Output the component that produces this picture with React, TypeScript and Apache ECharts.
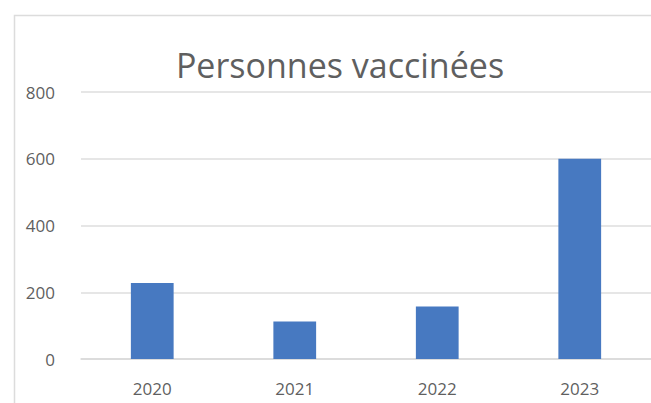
import React, { useEffect, useRef } from "react";
import * as echarts from "echarts";

const categories = ["2020", "2021", "2022", "2023"];
const values = [228, 112, 157, 600];
const yTicks = { min: 0, max: 800, interval: 200 };
const titleText = "Personnes vaccinées";

export default function App() {
  const ref = useRef<HTMLDivElement>(null);
  useEffect(() => {
    if (!ref.current) return;
    const chart = echarts.init(ref.current, null, { renderer: "svg" });
    chart.setOption({
      animation: false,
      backgroundColor: "#ffffff",
      title: {
        text: titleText,
        left: 335,
        top: 43,
        textAlign: "center",
        textStyle: {
          fontFamily: "Open Sans",
          fontSize: 34,
          fontWeight: "normal",
          color: "#5f5f5f",
        },
      },
      graphic: [
        {
          type: "polyline",
          shape: { points: [[14.5, 410], [14.5, 15.5], [660, 15.5]] },
          style: { fill: "none", stroke: "#dcdcdc", lineWidth: 1.5 },
          silent: true,
        },
      ],
      grid: { left: 81, width: 576, top: 92, height: 267, containLabel: false },
      xAxis: {
        type: "category",
        data: categories,
        axisLine: { lineStyle: { color: "#d9d9d9", width: 1.5 } },
        axisTick: { show: false },
        axisLabel: {
          color: "#5f5f5f",
          fontFamily: "Open Sans",
          fontSize: 17,
          margin: 21,
        },
      },
      yAxis: {
        type: "value",
        min: yTicks.min,
        max: yTicks.max,
        interval: yTicks.interval,
        axisLine: { show: false },
        axisTick: { show: false },
        splitLine: { lineStyle: { color: "#dedede", width: 1.5 } },
        axisLabel: {
          color: "#5f5f5f",
          fontFamily: "Open Sans",
          fontSize: 17,
          margin: 26,
        },
      },
      series: [
        {
          type: "bar",
          data: values,
          barWidth: "30%",
          itemStyle: { color: "#4779c1" },
        },
      ],
    });
    return () => chart.dispose();
  }, []);
  return (
    <div
      ref={ref}
      style={{ position: "fixed", left: 0, top: 0, width: 651, height: 403 }}
    />
  );
}
